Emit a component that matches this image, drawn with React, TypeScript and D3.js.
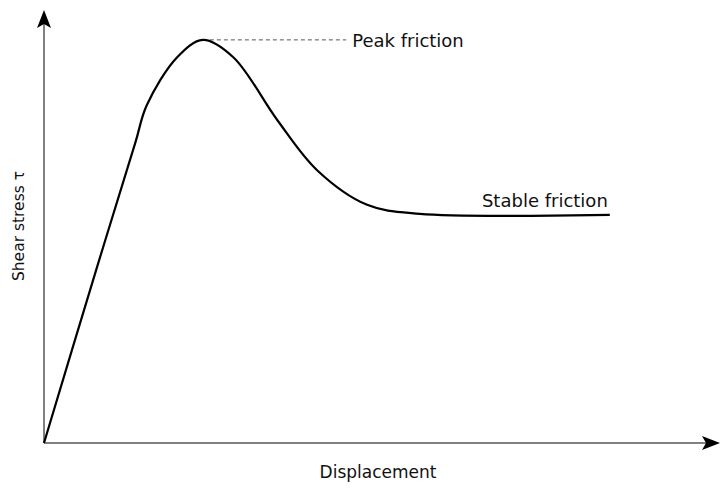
import React from "react";
import * as d3 from "d3";

// curve (displacement, shear stress) in arbitrary units
const displacement = [0, 0.78, 1.35, 1.52, 1.97, 2.35, 2.8, 3.45, 4.04, 4.78, 5.56, 8.37];
const shearStress = [0, 4.04, 6.93, 7.8, 8.91, 9.31, 8.91, 7.46, 6.3, 5.5, 5.29, 5.27];
const peakIndex = 5;
const peakLabelX = 4.5;
const labels = { peak: "Peak friction", stable: "Stable friction", x: "Displacement", y: "Shear stress τ" };

const W = 721;
const H = 488;
const FONT = "'DejaVu Sans', Verdana, sans-serif";

export default function App() {
  const x = d3.scaleLinear().domain([0, 10]).range([44, 720]);
  const y = d3.scaleLinear().domain([0, 10]).range([443, 10]);

  const pts: [number, number][] = displacement.map((d, i) => [d, shearStress[i]]);
  const line = d3
    .line<[number, number]>()
    .x((d) => x(d[0]))
    .y((d) => y(d[1]))
    .curve(d3.curveCatmullRom.alpha(0.5));

  const x0 = x(0);
  const y0 = y(0);
  const peakX = x(displacement[peakIndex]);
  const peakY = y(shearStress[peakIndex]);
  const last = pts[pts.length - 1];

  // arrowhead pointing up, tip at (0,0)
  const arrow = "M0,0 L7,18 L0,14 L-7,18 Z";

  return (
    <svg width={W} height={H} style={{ position: "absolute", left: 0, top: 0 }}>
      <rect width={W} height={H} fill="#fff" />
      {/* axes */}
      <line x1={x0} y1={y0} x2={x0} y2={y(10) + 12} stroke="#808080" strokeWidth={2} />
      <line x1={x0} y1={y0} x2={x(10) - 12} y2={y0} stroke="#808080" strokeWidth={2} />
      <path d={arrow} transform={`translate(${x0},${y(10)})`} fill="#000" />
      <path d={arrow} transform={`translate(${x(10)},${y0}) rotate(90)`} fill="#000" />

      {/* peak guide */}
      <line
        x1={peakX}
        y1={peakY}
        x2={x(peakLabelX) - 2}
        y2={peakY}
        stroke="#555"
        strokeWidth={1}
        strokeDasharray="4,3"
      />
      <text x={x(peakLabelX) + 4} y={peakY + 7} fontFamily={FONT} fontSize={18} fill="#111">
        {labels.peak}
      </text>

      {/* curve */}
      <path d={line(pts) ?? ""} fill="none" stroke="#000" strokeWidth={2.2} />

      <text x={x(last[0]) - 2} y={y(last[1]) - 8} textAnchor="end" fontFamily={FONT} fontSize={18} fill="#111">
        {labels.stable}
      </text>

      {/* axis titles */}
      <text x={378} y={478} textAnchor="middle" fontFamily={FONT} fontSize={17} fill="#111">
        {labels.x}
      </text>
      <text
        transform={`translate(24,${226}) rotate(-90)`}
        textAnchor="middle"
        fontFamily={FONT}
        fontSize={15.5}
        fill="#111"
      >
        {labels.y}
      </text>
    </svg>
  );
}
